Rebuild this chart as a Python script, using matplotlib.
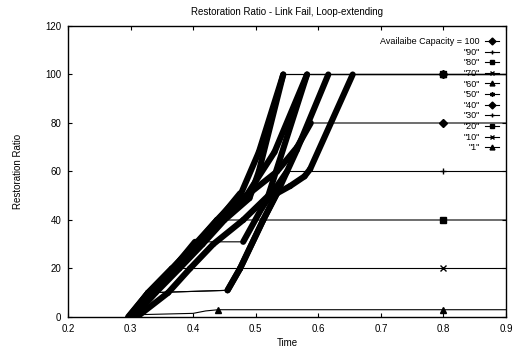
import numpy as np
import matplotlib
matplotlib.use("Agg")
import matplotlib.pyplot as plt

plt.rcParams['font.family'] = ['Liberation Sans', 'DejaVu Sans']

# Restoration ratio (%) over time for each available-capacity setting
labels = ['Availaibe Capacity = 100', '"90"', '"80"', '"70"', '"60"', '"50"',
          '"40"', '"30"', '"20"', '"10"', '"1"']

time_100 = [0.296, 0.328, 0.366, 0.403, 0.438, 0.475, 0.505, 0.544, 0.8, 0.9]
ratio_100 = [0, 10, 20, 30, 40, 50, 68, 100, 100, 100]

time_90 = [0.300, 0.335, 0.372, 0.410, 0.445, 0.485, 0.530, 0.582, 0.8, 0.9]
ratio_90 = [0, 10, 20, 30, 40, 50, 68, 100, 100, 100]

time_80 = [0.300, 0.328, 0.455, 0.475, 0.512, 0.534, 0.566, 0.616, 0.8, 0.9]
ratio_80 = [0, 10, 11, 20, 40, 51, 69, 100, 100, 100]

time_70 = [0.303, 0.330, 0.455, 0.475, 0.512, 0.534, 0.555, 0.578, 0.587, 0.655, 0.8, 0.9]
ratio_70 = [0, 10, 11, 20, 40, 51, 54, 58, 61, 100, 100, 100]

time_60 = [0.305, 0.340, 0.378, 0.415, 0.450, 0.490, 0.505, 0.544, 0.8, 0.9]
ratio_60 = [0, 10, 20, 30, 40, 49, 60, 100, 100, 100]

time_50 = [0.310, 0.360, 0.395, 0.432, 0.480, 0.520, 0.582, 0.8, 0.9]
ratio_50 = [0, 10, 20, 30, 40, 50, 100, 100, 100]

time_40 = [0.300, 0.330, 0.370, 0.405, 0.440, 0.475, 0.490, 0.534, 0.566, 0.588, 0.8, 0.9]
ratio_40 = [0, 10, 20, 30, 40, 51, 51, 60, 70, 80, 80, 80]

time_30 = [0.298, 0.330, 0.368, 0.403, 0.480, 0.510, 0.550, 0.8, 0.9]
ratio_30 = [0, 10, 20, 31, 31, 45, 60, 60, 60]

time_20 = [0.298, 0.330, 0.368, 0.405, 0.438, 0.8, 0.9]
ratio_20 = [0, 10, 20, 30, 40, 40, 40]

time_10 = [0.297, 0.328, 0.366, 0.8, 0.9]
ratio_10 = [0, 10, 20, 20, 20]

time_1 = [0.296, 0.320, 0.400, 0.420, 0.440, 0.8, 0.9]
ratio_1 = [0, 1, 1.5, 2.5, 3, 3, 3]

series_time = [time_100, time_90, time_80, time_70, time_60, time_50,
               time_40, time_30, time_20, time_10, time_1]
series_ratio = [ratio_100, ratio_90, ratio_80, ratio_70, ratio_60, ratio_50,
                ratio_40, ratio_30, ratio_20, ratio_10, ratio_1]

# times at which a sample point symbol is shown
marked_times = [[0.8]] * 10 + [[0.44, 0.8]]

x_ticks = [0.2, 0.3, 0.4, 0.5, 0.6, 0.7, 0.8, 0.9]
y_ticks = [0, 20, 40, 60, 80, 100, 120]

# gnuplot-style point types cycle: diamond, plus, box, cross, triangle, star
point_types = ['D', '+', 's', 'x', '^', (6, 2, 0)]

fig = plt.figure(figsize=(5.16, 3.49), dpi=100)
ax = fig.add_axes([0.1318, 0.0917, 0.8488, 0.8338])

for i, (t, r) in enumerate(zip(series_time, series_ratio)):
    t = np.asarray(t, float)
    r = np.asarray(r, float)
    mk = point_types[i % len(point_types)]
    # thin connecting line over the whole series
    ax.plot(t, r, color='black', lw=0.8, zorder=2)
    # densely sampled rising stretches render as heavy strokes
    slope = np.diff(r) / np.diff(t)
    for k in np.where(slope > 100)[0]:
        ax.plot(t[k:k + 2], r[k:k + 2], color='black', lw=4.4,
                solid_capstyle='round', zorder=3)
    idx = [int(np.argmin(np.abs(t - m))) for m in marked_times[i]]
    ax.plot(t[idx], r[idx], linestyle='none', marker=mk, color='black',
            markersize=4, markeredgewidth=1.0, zorder=4)

# legend handles
handles = []
for i, lab in enumerate(labels):
    mk = point_types[i % len(point_types)]
    h, = ax.plot([], [], color='black', lw=0.8, marker=mk, markersize=3.5,
                 markeredgewidth=1.0, label=lab)
    handles.append(h)

ax.legend(handles=handles, loc='upper right', bbox_to_anchor=(0.985, 0.962),
          markerfirst=False, frameon=False, fontsize=6.5, handlelength=1.6,
          handletextpad=0.6, labelspacing=0.18, borderaxespad=0.0,
          borderpad=0.0)

ax.set_xlim(0.2, 0.9)
ax.set_ylim(0, 120)
ax.set_xticks(x_ticks)
ax.set_yticks(y_ticks)
ax.set_xticklabels([f'{v:.1f}' for v in x_ticks])
ax.tick_params(direction='in', length=3, width=0.8, top=True, right=True,
               labelsize=7, pad=5)
for s in ax.spines.values():
    s.set_linewidth(1.0)

ax.set_title('Restoration Ratio - Link Fail, Loop-extending', fontsize=7,
             pad=8)
ax.set_xlabel('Time', fontsize=7, labelpad=3)
ax.set_ylabel('Restoration Ratio', fontsize=7, labelpad=16)

fig.savefig('out.png', dpi=100)
